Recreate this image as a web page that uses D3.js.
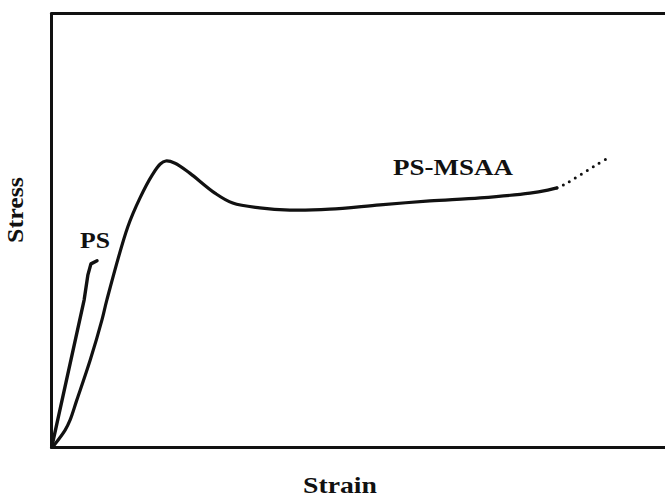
<!DOCTYPE html>
<html>
<head>
<meta charset="utf-8">
<script src="https://cdn.jsdelivr.net/npm/d3@7"></script>
<style>
  html, body { margin: 0; padding: 0; background: #fff; }
  svg { display: block; }
  text { font-family: "Liberation Serif", "Times New Roman", serif; font-weight: 700; fill: #111; }
</style>
</head>
<body>
<svg id="chart" width="665" height="499"></svg>
<script>
// Arbitrary units (no tick labels in the original)
const psStrain = [0.2, 5.4, 6.0, 6.5, 7.5];
const psStress = [0.5, 33.9, 39.6, 42.2, 42.9];

const msaaStrain = [0.5, 2.3, 3.1, 4.2, 6.4, 8.3, 9.1, 12.5, 14.5, 16.5, 17.8, 18.7, 20.2, 22.6, 26.7, 29.6, 34.0, 38.9, 45.4, 53.6, 61.7, 69.9, 78.0, 80.9, 82.4];
const msaaStress = [0.4, 3.9, 6.2, 10.8, 20.1, 29.3, 33.9, 50.7, 57.4, 62.7, 65.2, 65.9, 65.4, 63.1, 58.5, 56.2, 55.1, 54.6, 54.8, 55.8, 56.7, 57.4, 58.5, 59.2, 59.7];

const dotStrain = [82.4, 84.0, 86.2, 88.6, 90.7];
const dotStress = [59.7, 60.8, 62.7, 64.8, 66.6];

const seriesLabels = ["PS", "PS-MSAA"];
const xTitle = "Strain";
const yTitle = "Stress";

const svg = d3.select("#chart");
const mLeft = 51, mRight = 665, mTop = 13, mBottom = 447;

const x = d3.scaleLinear().domain([0, 100]).range([mLeft, mRight]);
const y = d3.scaleLinear().domain([0, 100]).range([mBottom, mTop]);

// Frame: left, bottom, top lines (right side cut off)
const frame = [
  svg.append("g").attr("transform", `translate(${mLeft},0)`).call(d3.axisLeft(y).ticks(0).tickSizeOuter(0)),
  svg.append("g").attr("transform", `translate(0,${mBottom})`).call(d3.axisBottom(x).ticks(0).tickSizeOuter(0)),
  svg.append("g").attr("transform", `translate(0,${mTop})`).call(d3.axisTop(x).ticks(0).tickSizeOuter(0))
];
frame.forEach(g => g.select(".domain").attr("stroke", "#111").attr("stroke-width", 3).attr("stroke-linecap", "round"));

const line = d3.line().x(d => x(d[0])).y(d => y(d[1])).curve(d3.curveCatmullRom.alpha(0.5));

const ps = psStrain.map((v, i) => [v, psStress[i]]);
const msaa = msaaStrain.map((v, i) => [v, msaaStress[i]]);
const dots = dotStrain.map((v, i) => [v, dotStress[i]]);

svg.append("path").datum(msaa).attr("d", line)
  .attr("fill", "none").attr("stroke", "#111").attr("stroke-width", 3.2)
  .attr("stroke-linejoin", "round").attr("stroke-linecap", "round");

svg.append("path").datum(ps).attr("d", d3.line().x(d => x(d[0])).y(d => y(d[1])).curve(d3.curveLinear))
  .attr("fill", "none").attr("stroke", "#111").attr("stroke-width", 3.4)
  .attr("stroke-linejoin", "round").attr("stroke-linecap", "round");

svg.append("path").datum(dots).attr("d", line)
  .attr("fill", "none").attr("stroke", "#111").attr("stroke-width", 3)
  .attr("stroke-linecap", "round").attr("stroke-dasharray", "0 7");

// Series labels
svg.append("text").attr("x", 80).attr("y", 248).attr("font-size", 23)
  .attr("textLength", 30).attr("lengthAdjust", "spacingAndGlyphs").text(seriesLabels[0]);
svg.append("text").attr("x", 393).attr("y", 175).attr("font-size", 23)
  .attr("textLength", 120).attr("lengthAdjust", "spacingAndGlyphs").text(seriesLabels[1]);

// Axis titles
svg.append("text").attr("x", 303).attr("y", 493).attr("font-size", 23)
  .attr("textLength", 74).attr("lengthAdjust", "spacingAndGlyphs").text(xTitle);
svg.append("text").attr("transform", "translate(23,243) rotate(-90)").attr("font-size", 23)
  .attr("textLength", 66).attr("lengthAdjust", "spacingAndGlyphs").text(yTitle);
</script>
</body>
</html>
